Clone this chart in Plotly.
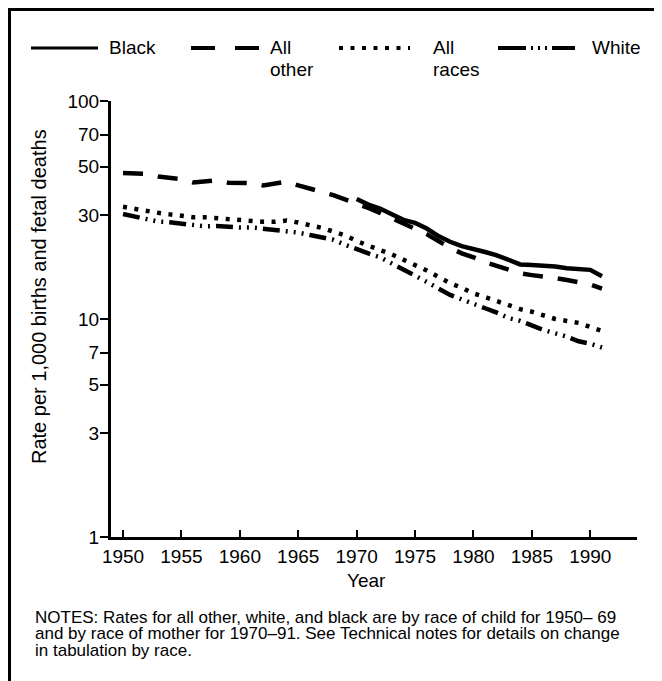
import plotly.graph_objects as go

years = list(range(1950, 1992))
black_years = list(range(1970, 1992))

all_other = [46.8, 46.6, 46.3, 45.0, 44.2, 43.8, 42.3, 42.8, 43.3, 42.2,
             42.0, 42.0, 41.0, 41.6, 42.7, 41.0, 39.8, 38.3, 37.0, 35.5,
             34.0, 32.3, 30.7, 29.0, 27.3, 25.8, 24.5, 22.8, 21.2, 20.0,
             19.2, 18.2, 17.5, 16.8, 16.2, 15.9, 15.7, 15.4, 15.1, 14.8,
             14.4, 13.8]
all_races = [32.7, 31.9, 31.3, 30.7, 30.2, 29.6, 29.3, 29.3, 29.0, 28.8,
             28.7, 28.3, 27.9, 27.9, 28.3, 27.7, 27.1, 26.2, 25.2, 24.2,
             22.8, 21.6, 20.7, 19.8, 18.7, 17.8, 16.7, 15.6, 14.6, 13.9,
             13.1, 12.6, 12.1, 11.6, 11.1, 10.8, 10.4, 10.0, 9.8, 9.6,
             9.2, 8.8]
white = [30.3, 29.5, 28.7, 28.0, 27.8, 27.3, 26.8, 26.6, 26.7, 26.4,
         26.3, 26.3, 26.0, 25.5, 25.2, 24.9, 24.3, 23.8, 23.1, 21.9,
         20.8, 20.0, 19.2, 18.0, 17.0, 15.8, 14.8, 13.8, 12.9, 12.3,
         11.8, 11.2, 10.7, 10.1, 9.8, 9.3, 8.9, 8.6, 8.3, 7.9,
         7.7, 7.4]
black = [35.5, 33.5, 32.1, 30.3, 28.5, 27.6, 26.0, 24.0, 22.6, 21.6,
         21.0, 20.3, 19.6, 18.7, 17.8, 17.7, 17.6, 17.4, 17.1, 17.0,
         16.8, 15.7]

y_ticks = [1, 3, 5, 7, 10, 30, 50, 70, 100]
x_ticks = [1950, 1955, 1960, 1965, 1970, 1975, 1980, 1985, 1990]

FONT = "Liberation Sans, Arial, Helvetica, sans-serif"
W, H = 662, 681
OFF = 8  # page body margin
# plot area in page pixels
PL, PR, PT, PB = 111, 637, 101, 537
L, R, T, B = PL - OFF, PR - OFF, PT - OFF, PB - OFF


def px(x):  # page x -> paper
    return (x - OFF - L) / (R - L)


def py(y):  # page y -> paper
    return (B - (y - OFF)) / (B - T)


DASH_OTHER = "20px,15px"
DASH_RACES = "4px,7.5px"
DASH_WHITE = "17px,6px,2px,6px,2px,6px,2px,6px"
LW = 4.5

fig = go.Figure()
fig.add_trace(go.Scatter(x=years, y=all_other, mode="lines",
                         line=dict(color="black", width=LW, dash=DASH_OTHER)))
fig.add_trace(go.Scatter(x=years, y=all_races, mode="lines",
                         line=dict(color="black", width=LW, dash=DASH_RACES)))
fig.add_trace(go.Scatter(x=years, y=white, mode="lines",
                         line=dict(color="black", width=LW, dash=DASH_WHITE)))
fig.add_trace(go.Scatter(x=black_years, y=black, mode="lines",
                         line=dict(color="black", width=LW)))

shapes = []
annotations = []

# frame (top and left)
shapes.append(dict(type="line", xref="paper", yref="paper",
                   x0=px(8), x1=px(680), y0=py(9.5), y1=py(9.5),
                   line=dict(color="black", width=3)))
shapes.append(dict(type="line", xref="paper", yref="paper",
                   x0=px(9.5), x1=px(9.5), y0=py(8), y1=py(700),
                   line=dict(color="black", width=3)))

# legend
leg_y = 48
legend_items = [
    (31, 98, None, "Black", 107),
    (191, 259, "24px,20px", "All<br>other", 268),
    (339, 410, DASH_RACES, "All<br>races", 431),
    (498, 575, "28px,5px,2px,5px,2px,5px,2px,5px,40px,0px", "White", 590),
]
for x0, x1, dash, label, tx in legend_items:
    ln = dict(color="black", width=4 if dash else 3)
    if dash:
        ln["dash"] = dash
    shapes.append(dict(type="line", xref="paper", yref="paper",
                       x0=px(x0), x1=px(x1), y0=py(leg_y), y1=py(leg_y), line=ln))
    parts = label.split("<br>")
    for i, p in enumerate(parts):
        annotations.append(dict(text=p, xref="paper", yref="paper",
                                x=px(tx), y=py(leg_y + i * 22), xanchor="left",
                                yanchor="middle", showarrow=False,
                                font=dict(family=FONT, size=19, color="black")))

# axis titles
annotations.append(dict(text="Year", xref="paper", yref="paper",
                        x=px(366), y=py(580), xanchor="center", yanchor="middle",
                        showarrow=False, font=dict(family=FONT, size=19, color="black")))
annotations.append(dict(text="Rate per 1,000 births and fetal deaths", xref="paper",
                        yref="paper", x=px(39), y=py(297), xanchor="center",
                        yanchor="middle", textangle=-90, showarrow=False,
                        font=dict(family=FONT, size=20, color="black")))

notes = [
    "NOTES: Rates for all other, white, and black are by race of child for 1950\u2013 69",
    "and by race of mother for 1970\u201391. See Technical notes for details on change",
    "in tabulation by race.",
]
for i, n in enumerate(notes):
    annotations.append(dict(text=n, xref="paper", yref="paper", x=px(34),
                            y=py(617 + i * 16.5), xanchor="left", yanchor="middle",
                            showarrow=False, borderpad=0,
                            font=dict(family=FONT, size=17, color="black")))

fig.update_layout(
    width=W, height=H,
    margin=dict(l=L, r=W - R, t=T, b=H - B),
    paper_bgcolor="white", plot_bgcolor="white",
    showlegend=False,
    shapes=shapes, annotations=annotations,
    font=dict(family=FONT, size=19, color="black"),
    xaxis=dict(range=[1948.97, 1994.0], tickvals=x_ticks,
               ticktext=[str(v) for v in x_ticks],
               showline=True, linecolor="black", linewidth=3,
               ticks="inside", ticklen=7, tickwidth=2, tickcolor="black",
               showgrid=False, zeroline=False,
               tickfont=dict(family=FONT, size=19, color="black")),
    yaxis=dict(type="log", range=[0, 2], tickvals=y_ticks,
               ticktext=[str(v) for v in y_ticks],
               showline=True, linecolor="black", linewidth=3,
               ticks="outside", ticklen=8, tickwidth=2, tickcolor="black",
               ticklabelstandoff=-3,
               showgrid=False, zeroline=False,
               tickfont=dict(family=FONT, size=19, color="black")),
)

fig.write_html("out.html")
